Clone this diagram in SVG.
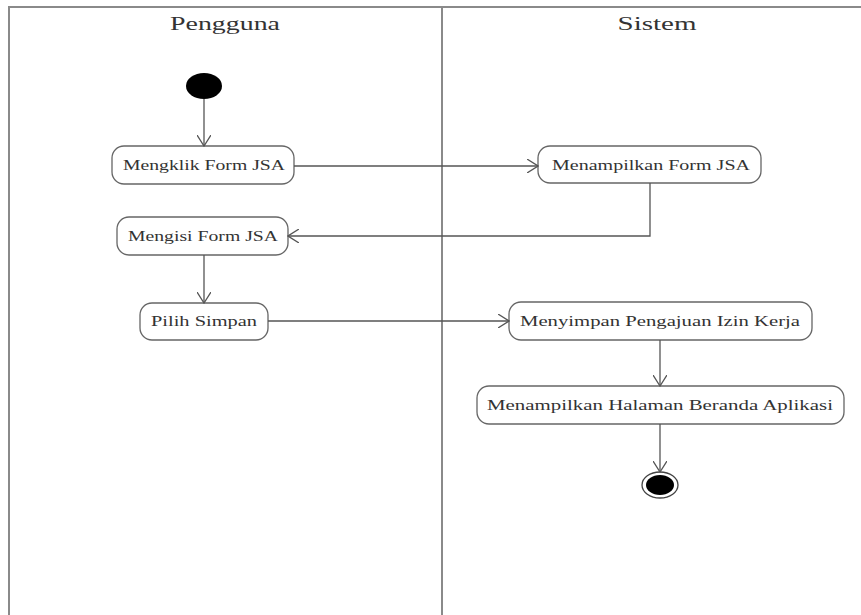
<svg xmlns="http://www.w3.org/2000/svg" width="861" height="615" viewBox="0 0 861 615">
<defs>
<marker id="arr" viewBox="0 0 12 14" refX="11" refY="7" markerWidth="12" markerHeight="14" markerUnits="userSpaceOnUse" orient="auto">
<path d="M0,0 L11,7 L0,14" fill="none" stroke="#555" stroke-width="1.3"/>
</marker>
</defs>
<style>
.lane{fill:none;stroke:#8a8a8a;stroke-width:2}
.title{font-family:"Liberation Serif","DejaVu Serif",serif;font-size:18px;fill:#333;text-anchor:middle}
.box{fill:#fff;stroke:#666;stroke-width:1.3}
.lbl{font-family:"Liberation Serif","DejaVu Serif",serif;font-size:14px;fill:#333;text-anchor:middle}
.edge{fill:none;stroke:#555;stroke-width:1.3;marker-end:url(#arr)}
</style>
<rect width="861" height="615" fill="#fff"/>
<g id="lanes">
<path class="lane" d="M9,615 V7 H861"/>
<line class="lane" x1="442" y1="7" x2="442" y2="615"/>
<text class="title" x="225" y="30" textLength="110" lengthAdjust="spacingAndGlyphs">Pengguna</text>
<text class="title" x="657" y="30" textLength="79" lengthAdjust="spacingAndGlyphs">Sistem</text>
</g>
<g id="start"><ellipse cx="204" cy="86" rx="18" ry="13" fill="#000"/></g>
<g id="n1"><rect class="box" x="112" y="146" width="182" height="38" rx="12"/><text class="lbl" x="204" y="170" textLength="162" lengthAdjust="spacingAndGlyphs">Mengklik Form JSA</text></g>
<g id="n2"><rect class="box" x="538" y="146" width="223" height="37" rx="12"/><text class="lbl" x="651" y="170" textLength="198" lengthAdjust="spacingAndGlyphs">Menampilkan Form JSA</text></g>
<g id="n3"><rect class="box" x="117" y="217" width="171" height="38" rx="12"/><text class="lbl" x="203" y="241" textLength="150" lengthAdjust="spacingAndGlyphs">Mengisi Form JSA</text></g>
<g id="n4"><rect class="box" x="140" y="303" width="128" height="37" rx="12"/><text class="lbl" x="204" y="326" textLength="106" lengthAdjust="spacingAndGlyphs">Pilih Simpan</text></g>
<g id="n5"><rect class="box" x="509" y="302" width="303" height="38" rx="12"/><text class="lbl" x="660" y="326" textLength="280" lengthAdjust="spacingAndGlyphs">Menyimpan Pengajuan Izin Kerja</text></g>
<g id="n6"><rect class="box" x="477" y="386" width="367" height="38" rx="12"/><text class="lbl" x="660" y="410" textLength="346" lengthAdjust="spacingAndGlyphs">Menampilkan Halaman Beranda Aplikasi</text></g>
<g id="end"><ellipse cx="660" cy="485" rx="18" ry="13" fill="#fff" stroke="#444" stroke-width="1.3"/><ellipse cx="660" cy="485" rx="14" ry="10" fill="#000"/></g>
<g id="connectors">
<path class="edge" d="M204,99 V146"/>
<path class="edge" d="M294,166 H538"/>
<path class="edge" d="M650,183 V236 H288"/>
<path class="edge" d="M204,255 V303"/>
<path class="edge" d="M268,321 H509"/>
<path class="edge" d="M660,340 V386"/>
<path class="edge" d="M660,424 V472"/>
</g>
</svg>
